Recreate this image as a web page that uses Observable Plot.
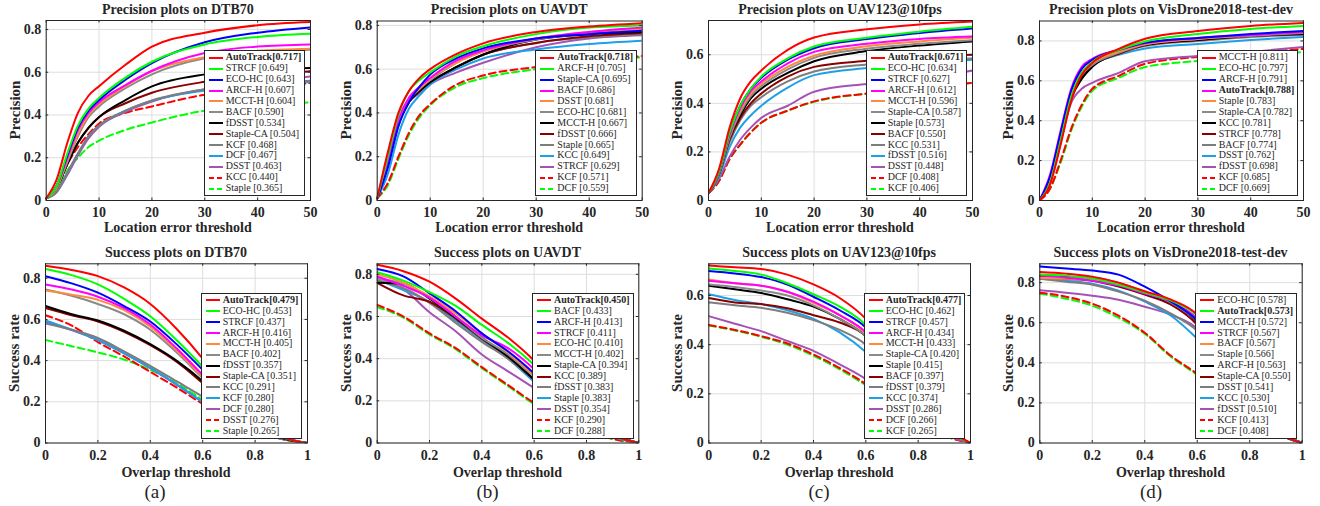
<!DOCTYPE html>
<html><head><meta charset="utf-8">
<script src="https://cdn.jsdelivr.net/npm/d3@7"></script>
<script src="https://cdn.jsdelivr.net/npm/@observablehq/plot@0.6"></script>
<style>
body{margin:0;background:#fff;}
#root{position:relative;width:1320px;height:506px;overflow:hidden;font-family:"Liberation Serif","Times New Roman",serif;color:#262626;background:#fff;}
.abs{position:absolute;white-space:nowrap;line-height:1;}
.title{font-weight:bold;font-size:14px;transform:translate(-50%,-50%);}
.xlab{font-weight:bold;font-size:14px;transform:translate(-50%,-50%);}
.ylab{font-weight:bold;font-size:15px;transform:translate(-50%,-50%) rotate(-90deg);}
.cap{font-size:19px;transform:translate(-50%,-50%);}
.legend{position:absolute;background:#fff;border:1px solid #262626;padding:1px 3px 1px 1px;font-size:10px;white-space:nowrap;}
.legend .row{display:flex;align-items:center;height:10.9px;line-height:10.9px;}
.legend svg{margin-right:1px;flex:none;}
.plot{position:absolute;}
</style></head><body><div id="root"></div><script>
// ---------- shared axes ----------
const precX = [0, 2, 4, 6, 8, 10, 15, 20, 30, 40, 50];
const succX = [0, 0.1, 0.2, 0.3, 0.4, 0.5, 0.6, 0.7, 0.8, 0.9, 1];
const precTicks = [0, 10, 20, 30, 40, 50];
const succTicks = [0, 0.2, 0.4, 0.6, 0.8, 1];
const yTicks = [0, 0.2, 0.4, 0.6, 0.8];
const captions = ["(a)", "(b)", "(c)", "(d)"];

// ---------- DTB70 precision ----------
const dtbPrecNames = ["AutoTrack","STRCF","ECO-HC","ARCF-H","MCCT-H","BACF","fDSST","Staple-CA","KCF","DCF","DSST","KCC","Staple"];
const dtbPrecScores = [0.717,0.649,0.643,0.607,0.604,0.590,0.534,0.504,0.468,0.467,0.463,0.440,0.365];
const dtbPrecY = [
  [0.01,0.10,0.27,0.41,0.49,0.535,0.635,0.72,0.785,0.82,0.835],
  [0.01,0.07,0.22,0.35,0.43,0.48,0.575,0.649,0.73,0.765,0.78],
  [0.01,0.07,0.21,0.34,0.42,0.47,0.565,0.643,0.74,0.785,0.81],
  [0.01,0.07,0.20,0.33,0.41,0.46,0.54,0.607,0.69,0.72,0.73],
  [0.01,0.06,0.19,0.31,0.40,0.45,0.535,0.604,0.67,0.70,0.71],
  [0.01,0.06,0.18,0.30,0.39,0.44,0.525,0.59,0.665,0.69,0.705],
  [0.01,0.06,0.17,0.27,0.34,0.39,0.47,0.534,0.59,0.61,0.62],
  [0.01,0.06,0.17,0.27,0.34,0.39,0.455,0.504,0.555,0.58,0.605],
  [0.01,0.04,0.13,0.22,0.30,0.35,0.42,0.468,0.52,0.545,0.56],
  [0.01,0.04,0.13,0.22,0.30,0.35,0.42,0.467,0.515,0.54,0.555],
  [0.01,0.04,0.12,0.21,0.29,0.345,0.415,0.463,0.52,0.55,0.58],
  [0.01,0.06,0.17,0.25,0.31,0.36,0.41,0.44,0.495,0.52,0.55],
  [0.01,0.05,0.14,0.20,0.25,0.28,0.33,0.365,0.42,0.44,0.46]
];

// ---------- UAVDT precision ----------
const uavdtPrecNames = ["AutoTrack","ARCF-H","Staple-CA","BACF","DSST","ECO-HC","MCCT-H","fDSST","Staple","KCC","STRCF","KCF","DCF"];
const uavdtPrecScores = [0.718,0.705,0.695,0.686,0.681,0.681,0.667,0.666,0.665,0.649,0.629,0.571,0.559];
const uavdtPrecY = [
  [0.01,0.22,0.40,0.50,0.56,0.60,0.67,0.718,0.77,0.795,0.81],
  [0.01,0.20,0.39,0.50,0.55,0.585,0.66,0.705,0.76,0.79,0.80],
  [0.01,0.15,0.34,0.45,0.52,0.575,0.65,0.695,0.74,0.76,0.775],
  [0.01,0.18,0.37,0.47,0.52,0.56,0.64,0.686,0.74,0.77,0.79],
  [0.01,0.18,0.36,0.46,0.51,0.555,0.63,0.681,0.74,0.77,0.785],
  [0.01,0.18,0.36,0.46,0.51,0.55,0.63,0.681,0.735,0.765,0.78],
  [0.01,0.17,0.35,0.45,0.50,0.54,0.61,0.667,0.735,0.76,0.77],
  [0.01,0.17,0.35,0.45,0.50,0.54,0.61,0.666,0.72,0.75,0.765],
  [0.01,0.17,0.35,0.45,0.50,0.54,0.61,0.665,0.72,0.745,0.76],
  [0.01,0.12,0.30,0.42,0.48,0.53,0.60,0.649,0.69,0.715,0.73],
  [0.01,0.16,0.34,0.45,0.49,0.53,0.585,0.629,0.70,0.74,0.755],
  [0.01,0.08,0.20,0.31,0.39,0.44,0.53,0.571,0.61,0.635,0.66],
  [0.01,0.07,0.19,0.30,0.38,0.435,0.52,0.559,0.60,0.63,0.655]
];

// ---------- UAV123@10fps precision ----------
const uav123PrecNames = ["AutoTrack","ECO-HC","STRCF","ARCF-H","MCCT-H","Staple-CA","Staple","BACF","KCC","fDSST","DSST","DCF","KCF"];
const uav123PrecScores = [0.671,0.634,0.627,0.612,0.596,0.587,0.573,0.550,0.531,0.516,0.448,0.408,0.406];
const uav123PrecY = [
  [0.03,0.13,0.30,0.42,0.49,0.535,0.62,0.671,0.705,0.725,0.737],
  [0.03,0.12,0.28,0.39,0.46,0.51,0.585,0.634,0.67,0.695,0.715],
  [0.03,0.12,0.28,0.39,0.46,0.505,0.58,0.627,0.665,0.69,0.708],
  [0.03,0.12,0.27,0.38,0.45,0.49,0.565,0.612,0.645,0.665,0.675],
  [0.03,0.12,0.27,0.37,0.44,0.48,0.55,0.596,0.635,0.655,0.67],
  [0.03,0.11,0.26,0.36,0.43,0.47,0.54,0.587,0.625,0.645,0.66],
  [0.03,0.11,0.26,0.35,0.42,0.46,0.525,0.573,0.615,0.638,0.655],
  [0.03,0.11,0.25,0.34,0.40,0.44,0.51,0.55,0.575,0.59,0.60],
  [0.03,0.11,0.24,0.33,0.39,0.425,0.49,0.531,0.56,0.575,0.585],
  [0.03,0.10,0.22,0.30,0.35,0.39,0.465,0.516,0.545,0.56,0.58],
  [0.03,0.09,0.18,0.25,0.30,0.34,0.39,0.448,0.48,0.50,0.535],
  [0.03,0.08,0.17,0.23,0.28,0.32,0.37,0.408,0.44,0.46,0.485],
  [0.03,0.08,0.17,0.23,0.28,0.32,0.37,0.406,0.44,0.46,0.485]
];

// ---------- VisDrone2018-test-dev precision ----------
const visPrecNames = ["MCCT-H","ECO-HC","ARCF-H","AutoTrack","Staple","Staple-CA","KCC","STRCF","BACF","DSST","fDSST","KCF","DCF"];
const visPrecScores = [0.811,0.797,0.791,0.788,0.783,0.782,0.781,0.778,0.774,0.762,0.698,0.685,0.669];
const visPrecY = [
  [0.0,0.08,0.28,0.50,0.63,0.69,0.76,0.811,0.85,0.875,0.89],
  [0.0,0.09,0.30,0.52,0.64,0.695,0.755,0.797,0.835,0.86,0.875],
  [0.0,0.12,0.34,0.55,0.66,0.705,0.755,0.791,0.815,0.835,0.85],
  [0.0,0.13,0.35,0.56,0.67,0.71,0.755,0.788,0.815,0.83,0.845],
  [0.0,0.10,0.31,0.53,0.64,0.69,0.745,0.783,0.81,0.83,0.845],
  [0.0,0.10,0.31,0.53,0.63,0.68,0.74,0.782,0.81,0.825,0.84],
  [0.0,0.10,0.30,0.51,0.61,0.67,0.74,0.781,0.805,0.825,0.835],
  [0.0,0.09,0.29,0.51,0.62,0.675,0.735,0.778,0.805,0.825,0.835],
  [0.0,0.10,0.30,0.52,0.62,0.675,0.735,0.774,0.80,0.82,0.83],
  [0.0,0.10,0.30,0.52,0.63,0.68,0.73,0.762,0.785,0.805,0.82],
  [0.0,0.10,0.30,0.49,0.56,0.59,0.64,0.698,0.725,0.745,0.77],
  [0.0,0.06,0.20,0.36,0.48,0.56,0.625,0.685,0.72,0.74,0.76],
  [0.0,0.06,0.19,0.35,0.47,0.55,0.615,0.669,0.70,0.725,0.745]
];

// ---------- DTB70 success ----------
const dtbSuccNames = ["AutoTrack","ECO-HC","STRCF","ARCF-H","MCCT-H","BACF","fDSST","Staple-CA","KCC","KCF","DCF","DSST","Staple"];
const dtbSuccScores = [0.479,0.453,0.437,0.416,0.405,0.402,0.357,0.351,0.291,0.280,0.280,0.276,0.265];
const dtbSuccY = [
  [0.86,0.84,0.81,0.755,0.675,0.555,0.41,0.24,0.11,0.03,0],
  [0.845,0.815,0.77,0.70,0.615,0.50,0.37,0.23,0.10,0.03,0],
  [0.81,0.775,0.73,0.665,0.59,0.48,0.355,0.22,0.10,0.03,0],
  [0.77,0.745,0.71,0.655,0.575,0.46,0.33,0.20,0.09,0.03,0],
  [0.74,0.72,0.695,0.645,0.565,0.45,0.32,0.19,0.09,0.03,0],
  [0.745,0.715,0.675,0.625,0.55,0.44,0.315,0.19,0.09,0.03,0],
  [0.665,0.625,0.595,0.545,0.48,0.40,0.30,0.18,0.08,0.025,0],
  [0.655,0.62,0.59,0.54,0.475,0.395,0.29,0.17,0.08,0.025,0],
  [0.58,0.55,0.51,0.445,0.375,0.30,0.225,0.14,0.07,0.02,0],
  [0.595,0.55,0.50,0.435,0.365,0.285,0.20,0.13,0.06,0.02,0],
  [0.59,0.548,0.50,0.435,0.363,0.283,0.20,0.13,0.06,0.02,0],
  [0.62,0.57,0.49,0.42,0.345,0.27,0.19,0.12,0.06,0.02,0],
  [0.50,0.47,0.44,0.405,0.355,0.29,0.21,0.13,0.06,0.02,0]
];

// ---------- UAVDT success ----------
const uavdtSuccNames = ["AutoTrack","BACF","ARCF-H","STRCF","ECO-HC","MCCT-H","Staple-CA","KCC","fDSST","Staple","DSST","KCF","DCF"];
const uavdtSuccScores = [0.450,0.433,0.413,0.411,0.410,0.402,0.394,0.389,0.383,0.383,0.354,0.290,0.288];
const uavdtSuccY = [
  [0.845,0.815,0.765,0.685,0.59,0.50,0.39,0.25,0.12,0.04,0],
  [0.81,0.77,0.715,0.65,0.56,0.475,0.37,0.24,0.11,0.04,0],
  [0.825,0.79,0.71,0.625,0.52,0.435,0.33,0.21,0.10,0.04,0],
  [0.79,0.745,0.69,0.60,0.51,0.45,0.35,0.22,0.10,0.04,0],
  [0.80,0.76,0.695,0.615,0.52,0.43,0.32,0.20,0.10,0.04,0],
  [0.78,0.755,0.69,0.60,0.50,0.42,0.315,0.20,0.10,0.035,0],
  [0.76,0.755,0.685,0.595,0.50,0.41,0.30,0.19,0.09,0.035,0],
  [0.76,0.70,0.67,0.59,0.495,0.41,0.30,0.19,0.09,0.035,0],
  [0.77,0.735,0.665,0.57,0.48,0.40,0.30,0.19,0.09,0.03,0],
  [0.775,0.725,0.67,0.58,0.49,0.40,0.29,0.18,0.09,0.03,0],
  [0.785,0.73,0.62,0.53,0.42,0.34,0.26,0.17,0.08,0.03,0],
  [0.655,0.60,0.52,0.45,0.36,0.275,0.19,0.12,0.06,0.02,0],
  [0.645,0.595,0.515,0.445,0.355,0.27,0.185,0.12,0.06,0.02,0]
];

// ---------- UAV123@10fps success ----------
const uav123SuccNames = ["AutoTrack","ECO-HC","STRCF","ARCF-H","MCCT-H","Staple-CA","Staple","BACF","fDSST","KCC","DSST","DCF","KCF"];
const uav123SuccScores = [0.477,0.462,0.457,0.434,0.433,0.420,0.415,0.397,0.379,0.374,0.286,0.266,0.265];
const uav123SuccY = [
  [0.722,0.715,0.708,0.685,0.645,0.59,0.505,0.36,0.20,0.07,0],
  [0.71,0.70,0.685,0.65,0.605,0.555,0.48,0.34,0.19,0.06,0],
  [0.70,0.69,0.675,0.645,0.595,0.54,0.47,0.33,0.18,0.06,0],
  [0.66,0.65,0.64,0.615,0.575,0.52,0.45,0.31,0.17,0.05,0],
  [0.665,0.65,0.64,0.615,0.57,0.52,0.445,0.31,0.17,0.05,0],
  [0.645,0.635,0.62,0.60,0.56,0.505,0.435,0.30,0.16,0.05,0],
  [0.64,0.625,0.61,0.585,0.555,0.505,0.435,0.30,0.16,0.05,0],
  [0.59,0.572,0.565,0.548,0.52,0.49,0.435,0.29,0.15,0.05,0],
  [0.572,0.56,0.55,0.53,0.50,0.46,0.40,0.28,0.15,0.05,0],
  [0.605,0.582,0.565,0.54,0.505,0.45,0.37,0.26,0.14,0.05,0],
  [0.516,0.485,0.455,0.415,0.375,0.32,0.26,0.18,0.10,0.035,0],
  [0.48,0.46,0.435,0.405,0.36,0.305,0.24,0.16,0.09,0.03,0],
  [0.478,0.458,0.432,0.40,0.355,0.30,0.235,0.16,0.09,0.03,0]
];

// ---------- VisDrone2018-test-dev success ----------
const visSuccNames = ["ECO-HC","AutoTrack","MCCT-H","STRCF","BACF","Staple","ARCF-H","Staple-CA","DSST","KCC","fDSST","KCF","DCF"];
const visSuccScores = [0.578,0.573,0.572,0.567,0.567,0.566,0.563,0.550,0.541,0.530,0.510,0.413,0.408];
const visSuccY = [
  [0.853,0.845,0.83,0.80,0.757,0.715,0.64,0.45,0.25,0.07,0],
  [0.84,0.835,0.82,0.79,0.75,0.71,0.635,0.45,0.24,0.07,0],
  [0.88,0.87,0.86,0.84,0.78,0.705,0.61,0.43,0.23,0.07,0],
  [0.835,0.825,0.81,0.785,0.745,0.705,0.62,0.44,0.24,0.07,0],
  [0.825,0.82,0.815,0.79,0.75,0.705,0.62,0.44,0.24,0.07,0],
  [0.825,0.825,0.825,0.80,0.755,0.70,0.61,0.44,0.24,0.07,0],
  [0.835,0.83,0.82,0.785,0.745,0.70,0.605,0.43,0.23,0.07,0],
  [0.83,0.82,0.81,0.78,0.74,0.69,0.59,0.41,0.22,0.06,0],
  [0.82,0.805,0.79,0.755,0.71,0.645,0.56,0.40,0.22,0.06,0],
  [0.82,0.81,0.795,0.76,0.705,0.635,0.52,0.38,0.20,0.06,0],
  [0.762,0.75,0.735,0.715,0.68,0.64,0.57,0.40,0.22,0.06,0],
  [0.75,0.73,0.695,0.635,0.55,0.435,0.345,0.24,0.14,0.05,0],
  [0.745,0.72,0.685,0.625,0.545,0.43,0.34,0.24,0.14,0.05,0]
];

// ---------- styling (rank-based, MATLAB-like) ----------
const palette = ["#ff0000","#00ff00","#0000ff","#ff00ff","#ff8a3d","#8a8a8a","#000000","#880000","#7d7d7d","#1ea0e6","#a652b5","#ff0000","#00ff00"];
const dashed = [false,false,false,false,false,false,false,false,false,false,false,true,true];

// layout: frame [left, right, top, bottom] in page pixels
const panels = [
  {title:"Precision plots on DTB70", names:dtbPrecNames, scores:dtbPrecScores, ys:dtbPrecY, xs:precX, xt:precTicks, yMax:0.842, frame:[45.7,310,20,200], row:0, col:0, xlab:"Location error threshold", ylab:"Precision"},
  {title:"Precision plots on UAVDT", names:uavdtPrecNames, scores:uavdtPrecScores, ys:uavdtPrecY, xs:precX, xt:precTicks, yMax:0.82, frame:[376.7,641.7,20.5,200], row:0, col:1, xlab:"Location error threshold", ylab:"Precision"},
  {title:"Precision plots on UAV123@10fps", names:uav123PrecNames, scores:uav123PrecScores, ys:uav123PrecY, xs:precX, xt:precTicks, yMax:0.741, frame:[708,972,20,200], row:0, col:2, xlab:"Location error threshold", ylab:"Precision"},
  {title:"Precision plots on VisDrone2018-test-dev", names:visPrecNames, scores:visPrecScores, ys:visPrecY, xs:precX, xt:precTicks, yMax:0.9, frame:[1039,1303,20.5,200], row:0, col:3, xlab:"Location error threshold", ylab:"Precision"},
  {title:"Success plots on DTB70", names:dtbSuccNames, scores:dtbSuccScores, ys:dtbSuccY, xs:succX, xt:succTicks, yMax:0.87, frame:[45,307,263.3,442.5], row:1, col:0, xlab:"Overlap threshold", ylab:"Success rate"},
  {title:"Success plots on UAVDT", names:uavdtSuccNames, scores:uavdtSuccScores, ys:uavdtSuccY, xs:succX, xt:succTicks, yMax:0.85, frame:[376.7,638.3,263.3,442.5], row:1, col:1, xlab:"Overlap threshold", ylab:"Success rate"},
  {title:"Success plots on UAV123@10fps", names:uav123SuccNames, scores:uav123SuccScores, ys:uav123SuccY, xs:succX, xt:succTicks, yMax:0.729, frame:[708.3,970,263.3,442.5], row:1, col:2, xlab:"Overlap threshold", ylab:"Success rate"},
  {title:"Success plots on VisDrone2018-test-dev", names:visSuccNames, scores:visSuccScores, ys:visSuccY, xs:succX, xt:succTicks, yMax:0.894, frame:[1039.3,1301.7,263.3,442.5], row:1, col:3, xlab:"Overlap threshold", ylab:"Success rate"}
];
const captionX = [155, 487.5, 819, 1151];

const root = document.getElementById("root");
function addText(cls, text, x, y) {
  const d = document.createElement("div");
  d.className = "abs " + cls;
  d.textContent = text;
  d.style.left = x + "px";
  d.style.top = y + "px";
  root.appendChild(d);
}

panels.forEach(p => {
  const [fl, fr, ft, fb] = p.frame;
  const colLeft = p.col * 330, W = 330;
  const rowTop = p.row === 0 ? 0 : 240;
  const H = p.row === 0 ? 240 : 266;
  const rows = [];
  p.names.forEach((n, i) => p.xs.forEach((x, j) => rows.push({x, y: p.ys[i][j], s: i})));
  const yt = yTicks.filter(v => v <= p.yMax);
  const xMin = p.xs[0], xMax = p.xs[p.xs.length - 1];
  // inward tick lengths (about 2.5 px) expressed in data units of each scale
  const tyLen = p.yMax * 2.5 / (fb - ft);
  const txLen = (xMax - xMin) * 2.5 / (fr - fl);
  const marks = [
    Plot.gridX(p.xt, {stroke: "#dedede", strokeOpacity: 1, strokeWidth: 1}),
    Plot.gridY(yt, {stroke: "#dedede", strokeOpacity: 1, strokeWidth: 1})
  ];
  for (let i = p.names.length - 1; i >= 0; i--) {
    marks.push(Plot.line(rows.filter(r => r.s === i), {
      x: "x", y: "y", stroke: palette[i], strokeWidth: 2,
      strokeDasharray: dashed[i] ? "7,4" : undefined,
      curve: "monotone-x", clip: true
    }));
  }
  marks.push(Plot.ruleX(p.xt, {y1: 0, y2: tyLen, stroke: "#262626"}));
  marks.push(Plot.ruleX(p.xt, {y1: p.yMax - tyLen, y2: p.yMax, stroke: "#262626"}));
  marks.push(Plot.ruleY(yt, {x1: xMin, x2: xMin + txLen, stroke: "#262626"}));
  marks.push(Plot.ruleY(yt, {x1: xMax - txLen, x2: xMax, stroke: "#262626"}));
  marks.push(Plot.frame({stroke: "#262626", strokeWidth: 1}));
  marks.push(Plot.axisX(p.xt, {tickSize: 0, tickPadding: 7, fontSize: 14, fontWeight: "bold", label: null, tickFormat: d => String(d)}));
  marks.push(Plot.axisY(yt, {tickSize: 0, tickPadding: 5, fontSize: 14, fontWeight: "bold", label: null, tickFormat: d => String(d)}));
  const chart = Plot.plot({
    width: W, height: H,
    marginLeft: fl - colLeft, marginRight: colLeft + W - fr,
    marginTop: ft - rowTop, marginBottom: rowTop + H - fb,
    x: {domain: [xMin, xMax]},
    y: {domain: [0, p.yMax]},
    style: {background: "transparent", fontFamily: "'Liberation Serif','Times New Roman',serif", color: "#262626", overflow: "visible"},
    marks
  });
  chart.classList.add("plot");
  chart.style.left = colLeft + "px";
  chart.style.top = rowTop + "px";
  root.appendChild(chart);

  const cx = (fl + fr) / 2;
  addText("title", p.title, cx, p.row === 0 ? 10 : 253.3);
  addText("xlab", p.xlab, cx, p.row === 0 ? 228 : 473);
  addText("ylab", p.ylab, fl - 31, (ft + fb) / 2);
  if (p.row === 1) addText("cap", captions[p.col], captionX[p.col], 491);

  // legend
  const lg = document.createElement("div");
  lg.className = "legend";
  lg.style.right = (1320 - (fr - 4.7)) + "px";
  lg.style.bottom = (506 - (fb - 4)) + "px";
  p.names.forEach((n, i) => {
    const r = document.createElement("div");
    r.className = "row";
    const dash = dashed[i] ? ' stroke-dasharray="5,3"' : '';
    r.innerHTML = `<svg width="19" height="10"><line x1="3" y1="5" x2="17" y2="5" stroke="${palette[i]}" stroke-width="2"${dash}/></svg>`;
    const t = document.createElement("span");
    if (n === "AutoTrack") { t.style.fontWeight = "bold"; t.textContent = `${n}[${p.scores[i].toFixed(3)}]`; }
    else t.textContent = `${n} [${p.scores[i].toFixed(3)}]`;
    r.appendChild(t);
    lg.appendChild(r);
  });
  root.appendChild(lg);
});
</script></body></html>
